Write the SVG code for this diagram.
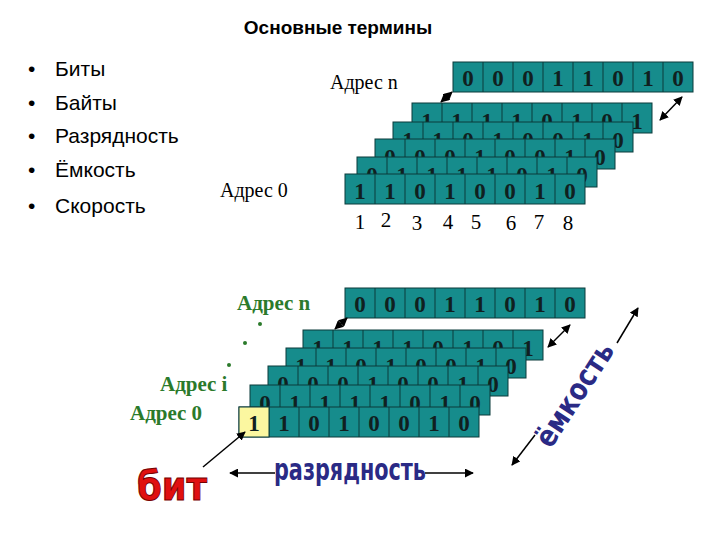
<svg xmlns="http://www.w3.org/2000/svg" xmlns:xlink="http://www.w3.org/1999/xlink" width="720" height="540" viewBox="0 0 720 540">
<style>
.t{font-family:"Liberation Sans",Arial,sans-serif;fill:#000}
.s{font-family:"Liberation Serif","Times New Roman",serif}
.d{font-family:"Liberation Serif","Times New Roman",serif;font-weight:bold;font-size:23px;fill:#102020;text-anchor:middle}
.g{fill:#2b7a2b;font-weight:bold;font-size:21px}
.a{stroke:#000;stroke-width:1.5;fill:none}
</style>
<defs>
<marker id="ah" viewBox="0 0 10 10" refX="9" refY="5" markerWidth="6" markerHeight="6" orient="auto-start-reverse"><path d="M0,0L10,5L0,10z" fill="#000"/></marker>
<g id="row"><rect x="0" y="0" width="240" height="30" fill="#168c8c" stroke="#0b3b3b"/><path d="M30,0v30M60,0v30M90,0v30M120,0v30M150,0v30M180,0v30M210,0v30" stroke="#0b3b3b"/></g>
</defs>
<rect width="720" height="540" fill="#fff"/>
<text class="t" x="338" y="34" font-size="19" font-weight="bold" text-anchor="middle">Основные термины</text>
<g id="list" class="t" font-size="21">
<text x="28" y="76">•</text><text x="55" y="76">Биты</text>
<text x="28" y="110">•</text><text x="55" y="110">Байты</text>
<text x="28" y="143">•</text><text x="55" y="143">Разрядность</text>
<text x="28" y="177">•</text><text x="55" y="177">Ёмкость</text>
<text x="28" y="213">•</text><text x="55" y="213">Скорость</text>
</g>
<text class="s" x="220" y="197" font-size="20">Адрес 0</text>
<text class="s" x="330" y="89" font-size="20">Адрес n</text>
<g id="top">
<use xlink:href="#row" x="453" y="62"/>
<g class="d"><text x="468" y="86">0</text><text x="498" y="86">0</text><text x="528" y="86">0</text><text x="558" y="86">1</text><text x="588" y="86">1</text><text x="618" y="86">0</text><text x="648" y="86">1</text><text x="678" y="86">0</text></g>
<use xlink:href="#row" x="412" y="103"/>
<g class="d"><text x="427" y="129">1</text><text x="457" y="129">1</text><text x="487" y="129">1</text><text x="517" y="129">1</text><text x="547" y="129">0</text><text x="577" y="129">1</text><text x="607" y="129">0</text><text x="637" y="129">1</text></g>
<use xlink:href="#row" x="393" y="122"/>
<g class="d"><text x="408" y="148">1</text><text x="438" y="148">1</text><text x="468" y="148">0</text><text x="498" y="148">1</text><text x="528" y="148">0</text><text x="558" y="148">0</text><text x="588" y="148">1</text><text x="618" y="148">0</text></g>
<use xlink:href="#row" x="375" y="139"/>
<g class="d"><text x="390" y="165">0</text><text x="420" y="165">0</text><text x="450" y="165">0</text><text x="480" y="165">1</text><text x="510" y="165">0</text><text x="540" y="165">0</text><text x="570" y="165">1</text><text x="600" y="165">0</text></g>
<use xlink:href="#row" x="357" y="157"/>
<g class="d"><text x="372" y="183">0</text><text x="402" y="183">1</text><text x="432" y="183">1</text><text x="462" y="183">1</text><text x="492" y="183">1</text><text x="522" y="183">0</text><text x="552" y="183">1</text><text x="582" y="183">0</text></g>
<use xlink:href="#row" x="345" y="174"/>
<g class="d"><text x="360" y="199">1</text><text x="390" y="199">1</text><text x="420" y="199">0</text><text x="450" y="199">1</text><text x="480" y="199">0</text><text x="510" y="199">0</text><text x="540" y="199">1</text><text x="570" y="199">0</text></g>
<g class="s" font-size="21" text-anchor="middle"><text x="360" y="229">1</text><text x="386" y="227">2</text><text x="417" y="230">3</text><text x="448" y="229">4</text><text x="476" y="229">5</text><text x="511" y="230">6</text><text x="539" y="229">7</text><text x="568" y="230">8</text></g>
</g>
<g id="bottom">
<text class="s g" x="237" y="310">Адрес n</text>
<circle cx="260" cy="324" r="2" fill="#2b7a2b"/><circle cx="245" cy="343" r="2" fill="#2b7a2b"/><circle cx="229" cy="365" r="2" fill="#2b7a2b"/>
<text class="s g" x="160" y="391">Адрес i</text>
<text class="s g" x="130" y="420">Адрес 0</text>
<use xlink:href="#row" x="345" y="288"/>
<g class="d"><text x="360" y="312">0</text><text x="390" y="312">0</text><text x="420" y="312">0</text><text x="450" y="312">1</text><text x="480" y="312">1</text><text x="510" y="312">0</text><text x="540" y="312">1</text><text x="570" y="312">0</text></g>
<use xlink:href="#row" x="303" y="330"/>
<g class="d"><text x="318" y="356">1</text><text x="348" y="356">1</text><text x="378" y="356">1</text><text x="408" y="356">1</text><text x="438" y="356">0</text><text x="468" y="356">1</text><text x="498" y="356">0</text><text x="528" y="356">1</text></g>
<use xlink:href="#row" x="286" y="348"/>
<g class="d"><text x="301" y="374">1</text><text x="331" y="374">1</text><text x="361" y="374">0</text><text x="391" y="374">1</text><text x="421" y="374">0</text><text x="451" y="374">0</text><text x="481" y="374">1</text><text x="511" y="374">0</text></g>
<use xlink:href="#row" x="268" y="366"/>
<g class="d"><text x="283" y="392">0</text><text x="313" y="392">0</text><text x="343" y="392">0</text><text x="373" y="392">1</text><text x="403" y="392">0</text><text x="433" y="392">0</text><text x="463" y="392">1</text><text x="493" y="392">0</text></g>
<use xlink:href="#row" x="250" y="385"/>
<g class="d"><text x="265" y="411">0</text><text x="295" y="411">1</text><text x="325" y="411">1</text><text x="355" y="411">1</text><text x="385" y="411">1</text><text x="415" y="411">0</text><text x="445" y="411">1</text><text x="475" y="411">0</text></g>
<use xlink:href="#row" x="239" y="407"/>
<rect x="239" y="407" width="30" height="30" fill="#fbf7a0" stroke="#0b3b3b"/>
<g class="d"><text x="254" y="431">1</text><text x="284" y="431">1</text><text x="314" y="431">0</text><text x="344" y="431">1</text><text x="374" y="431">0</text><text x="404" y="431">0</text><text x="434" y="431">1</text><text x="464" y="431">0</text></g>
</g>
<g id="connectors">
<line class="a" x1="441" y1="102" x2="452" y2="92" marker-start="url(#ah)" marker-end="url(#ah)"/>
<line class="a" x1="660" y1="120" x2="682" y2="97" marker-start="url(#ah)" marker-end="url(#ah)"/>
<line class="a" x1="335" y1="329" x2="347" y2="318" marker-start="url(#ah)" marker-end="url(#ah)"/>
<line class="a" x1="548" y1="347" x2="570" y2="325" marker-start="url(#ah)" marker-end="url(#ah)"/>
<line class="a" x1="203" y1="467" x2="245" y2="432" marker-end="url(#ah)"/>
<line class="a" x1="230" y1="473" x2="473" y2="473" marker-start="url(#ah)" marker-end="url(#ah)"/>
<line class="a" x1="535" y1="435" x2="512" y2="465" marker-end="url(#ah)"/>
<line class="a" x1="617" y1="343" x2="638" y2="308" marker-end="url(#ah)"/>
</g>
<g id="labels">
<text x="172" y="500" font-family="DejaVu Sans,sans-serif" font-weight="bold" font-size="40" fill="#e01010" stroke="#700" stroke-width="1" text-anchor="middle" textLength="70" lengthAdjust="spacingAndGlyphs">бит</text>
<rect x="275" y="455" width="150" height="30" fill="#fff"/>
<text x="350" y="480" font-family="DejaVu Sans,sans-serif" font-weight="bold" font-size="30" fill="#2a2a85" text-anchor="middle" textLength="152" lengthAdjust="spacingAndGlyphs">разрядность</text>
<text transform="translate(583,400) rotate(-57)" font-family="DejaVu Sans,sans-serif" font-weight="bold" font-size="30" fill="#2a2a85" text-anchor="middle" textLength="118" lengthAdjust="spacingAndGlyphs">ёмкость</text>
</g>
</svg>
